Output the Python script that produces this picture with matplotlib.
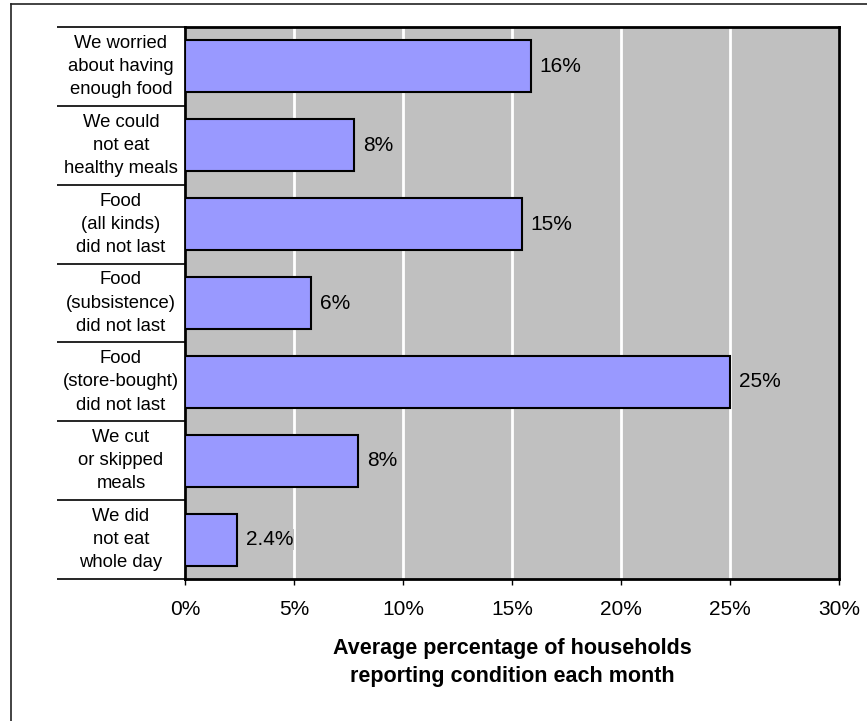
import matplotlib
matplotlib.use("Agg")
import matplotlib.pyplot as plt
from matplotlib.lines import Line2D
import numpy as np

plt.rcParams['font.family'] = ['Liberation Sans', 'DejaVu Sans']

# categories, top to bottom
categories = ["We worried\nabout having\nenough food",
              "We could\nnot eat\nhealthy meals",
              "Food\n(all kinds)\ndid not last",
              "Food\n(subsistence)\ndid not last",
              "Food\n(store-bought)\ndid not last",
              "We cut\nor skipped\nmeals",
              "We did\nnot eat\nwhole day"]
values = [15.85, 7.75, 15.45, 5.8, 25.0, 7.95, 2.4]
value_labels = ["16%", "8%", "15%", "6%", "25%", "8%", "2.4%"]
xticks = [0, 5, 10, 15, 20, 25, 30]
xtick_labels = ["0%", "5%", "10%", "15%", "20%", "25%", "30%"]

fig = plt.figure(figsize=(8.67, 7.21), dpi=100)
ax = fig.add_axes([0.2134, 0.1969, 0.7543, 0.7656])
ax.set_facecolor("#C0C0C0")

y = np.arange(len(categories))
ax.barh(y, values, height=0.66, color="#9999FF", edgecolor="black", linewidth=1.5, zorder=3)

for yi, v, lab in zip(y, values, value_labels):
    ax.text(v + 0.4, yi, lab, va="center", ha="left", fontsize=15, zorder=4,
            bbox=dict(facecolor="#C0C0C0", edgecolor="none", pad=0.5))

ax.set_xlim(0, 30)
ax.set_ylim(len(categories) - 0.5, -0.5)
ax.set_xticks(xticks)
ax.set_xticklabels(xtick_labels, fontsize=15)
ax.tick_params(axis="x", direction="out", length=4, width=1, pad=11)
ax.grid(axis="x", color="white", linewidth=2)
ax.set_axisbelow(True)

# category labels with separator lines between them
ax.set_yticks([])
ax.set_yticks(np.arange(len(categories) + 1) - 0.5, minor=True)
ax.tick_params(axis="y", which="minor", direction="out", length=92, width=1.2, color="black")
ax.set_yticklabels([], minor=True)
for yi, cat in zip(y, categories):
    ax.text(-0.098, yi, cat, transform=ax.get_yaxis_transform(), ha="center", va="center",
            fontsize=13.3, linespacing=1.47, multialignment="center")

for s in ax.spines.values():
    s.set_linewidth(2)
    s.set_color("black")

ax.set_xlabel("Average percentage of households\nreporting condition each month",
              fontsize=15.5, fontweight="bold", labelpad=14, linespacing=1.4)

# outer frame (left and top edges visible)
fig.add_artist(Line2D([0.0127, 0.0127], [0, 0.9945], color="#222222", lw=1.2))
fig.add_artist(Line2D([0.0127, 1], [0.9945, 0.9945], color="#222222", lw=1.2))

fig.savefig("out.png", dpi=100)
